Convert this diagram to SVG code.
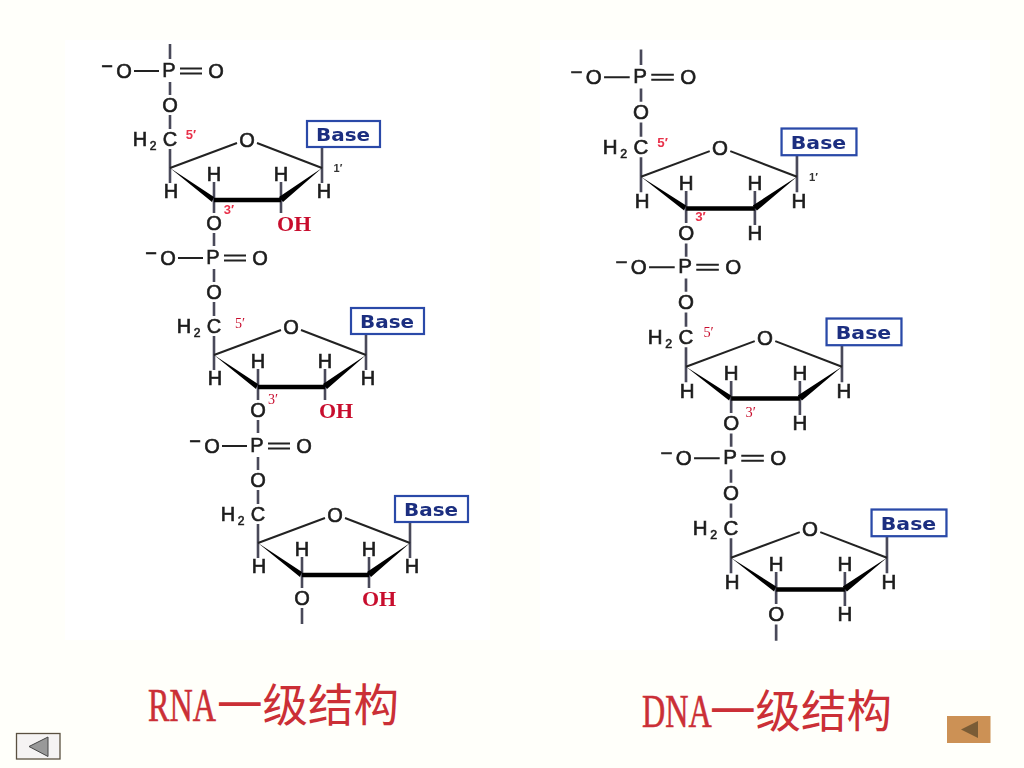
<svg xmlns="http://www.w3.org/2000/svg" width="1024" height="768" viewBox="0 0 1024 768">
<defs><filter id="soft" x="-10%" y="-10%" width="120%" height="120%"><feGaussianBlur stdDeviation="0.35"/></filter></defs>
<style>
.u{filter:url(#soft)}
.b{stroke:#222;stroke-width:2;fill:none}
.p{stroke:#4a4a5a;stroke-width:2.6;fill:none}
.t{stroke:#000;stroke-width:4.5;fill:none}
.w{fill:#000}
.a{font-family:"Liberation Sans",Arial,sans-serif;font-size:20px;fill:#1c1c1c;text-anchor:middle;stroke:#1c1c1c;stroke-width:.6}
.s{font-size:12px}
.box{fill:#fff;stroke:#2a4aa8;stroke-width:2.2}
.base{font-family:"DejaVu Sans",sans-serif;font-size:17.500px;font-weight:bold;fill:#1a2f80}
.n{font-family:"Liberation Sans",Arial,sans-serif;font-size:13px;font-weight:bold;fill:#e8304a;text-anchor:middle}
.k{font-family:"Liberation Sans",Arial,sans-serif;font-size:11px;font-weight:bold;fill:#333;text-anchor:middle}
.r{font-family:"Liberation Serif",serif;font-size:14px;fill:#c8102e;text-anchor:middle}
.oh{font-family:"Liberation Serif",serif;font-size:22px;font-weight:bold;fill:#c8102e;text-anchor:middle}
.title{font-family:"Noto Sans CJK SC",sans-serif;font-size:45.500px;fill:#cb2f36}
.lat{font-family:"Liberation Serif",serif;font-size:46px;fill:#cb2f36;stroke:#cb2f36;stroke-width:.6}
</style>
<rect width="1024" height="768" fill="#fffffa"/>
<rect x="65" y="40" width="425" height="600" fill="#fff"/>
<rect x="540" y="40" width="450" height="610" fill="#fff"/>

<g id="rna-unit-1" class="u" transform="translate(170,139)">
<path class="p" d="M0-95V-80M0-57V-44M0-24V-10M0 10V29M0 29V44M44 43V60M44 60V74M44 94V107M111 43V60M111 60V74M152 8V44"/>
<path class="b" d="M-36-68H-11M10-70.500H32M10-65.500H32M0 29L67 4M87 4L152 29"/>
<path class="t" d="M44 61H111"/>
<path class="w" d="M0 29L44 58L42 63ZM152 29L109 58L113 63Z"/>
<text class="a" x="-63" y="-66">−</text><text class="a" x="-46" y="-61">O</text><text class="a" x="-1" y="-62">P</text><text class="a" x="46" y="-61">O</text><text class="a" x="0" y="-27">O</text>
<text class="a" x="-30" y="7">H</text><text class="a s" x="-17" y="11">2</text><text class="a" x="0" y="7">C</text>
<text class="a" x="77" y="8">O</text><text class="a" x="1" y="59">H</text><text class="a" x="44" y="42">H</text><text class="a" x="111" y="42">H</text><text class="a" x="154" y="59">H</text><text class="a" x="44" y="91">O</text>
<rect class="box" x="137" y="-18" width="73" height="26"/><text class="base" x="146" y="2" textLength="54" lengthAdjust="spacingAndGlyphs">Base</text>
<text class="n" x="21" y="0">5′</text><text class="n" x="59" y="75">3′</text><text class="k" x="168" y="33">1′</text><text class="oh" x="124" y="92">OH</text>
</g>

<g id="rna-unit-2" class="u" transform="translate(214,326)">
<path class="p" d="M0-57V-44M0-24V-10M0 10V29M0 29V44M44 43V60M44 60V74M44 94V107M111 43V60M111 60V74M152 8V44"/>
<path class="b" d="M-36-68H-11M10-70.500H32M10-65.500H32M0 29L67 4M87 4L152 29"/>
<path class="t" d="M44 61H111"/>
<path class="w" d="M0 29L44 58L42 63ZM152 29L109 58L113 63Z"/>
<text class="a" x="-63" y="-66">−</text><text class="a" x="-46" y="-61">O</text><text class="a" x="-1" y="-62">P</text><text class="a" x="46" y="-61">O</text><text class="a" x="0" y="-27">O</text>
<text class="a" x="-30" y="7">H</text><text class="a s" x="-17" y="11">2</text><text class="a" x="0" y="7">C</text>
<text class="a" x="77" y="8">O</text><text class="a" x="1" y="59">H</text><text class="a" x="44" y="42">H</text><text class="a" x="111" y="42">H</text><text class="a" x="154" y="59">H</text><text class="a" x="44" y="91">O</text>
<rect class="box" x="137" y="-18" width="73" height="26"/><text class="base" x="146" y="2" textLength="54" lengthAdjust="spacingAndGlyphs">Base</text>
<text class="r" x="26" y="2">5′</text><text class="r" x="59" y="78">3′</text><text class="oh" x="122" y="92">OH</text>
</g>

<g id="rna-unit-3" class="u" transform="translate(258,514)">
<path class="p" d="M0-57V-44M0-24V-10M0 10V29M0 29V44M44 43V60M44 60V74M44 94V110M111 43V60M111 60V74M152 8V44"/>
<path class="b" d="M-36-68H-11M10-70.500H32M10-65.500H32M0 29L67 4M87 4L152 29"/>
<path class="t" d="M44 61H111"/>
<path class="w" d="M0 29L44 58L42 63ZM152 29L109 58L113 63Z"/>
<text class="a" x="-63" y="-66">−</text><text class="a" x="-46" y="-61">O</text><text class="a" x="-1" y="-62">P</text><text class="a" x="46" y="-61">O</text><text class="a" x="0" y="-27">O</text>
<text class="a" x="-30" y="7">H</text><text class="a s" x="-17" y="11">2</text><text class="a" x="0" y="7">C</text>
<text class="a" x="77" y="8">O</text><text class="a" x="1" y="59">H</text><text class="a" x="44" y="42">H</text><text class="a" x="111" y="42">H</text><text class="a" x="154" y="59">H</text><text class="a" x="44" y="91">O</text>
<rect class="box" x="137" y="-18" width="73" height="26"/><text class="base" x="146" y="2" textLength="54" lengthAdjust="spacingAndGlyphs">Base</text>
<text class="oh" x="121" y="92">OH</text>
</g>

<g id="dna-unit-1" class="u" transform="translate(641,147) scale(1.026)">
<path class="p" d="M0-95V-80M0-57V-44M0-24V-10M0 10V29M0 29V44M44 43V60M44 60V74M44 94V107M111 43V60M111 60V76M152 8V44"/>
<path class="b" d="M-36-68H-11M10-70.500H32M10-65.500H32M0 29L67 4M87 4L152 29"/>
<path class="t" d="M44 60H111"/>
<path class="w" d="M0 29L44 57L42 62ZM152 29L109 57L113 62Z"/>
<text class="a" x="-63" y="-66">−</text><text class="a" x="-46" y="-61">O</text><text class="a" x="-1" y="-62">P</text><text class="a" x="46" y="-61">O</text><text class="a" x="0" y="-27">O</text>
<text class="a" x="-30" y="7">H</text><text class="a s" x="-17" y="11">2</text><text class="a" x="0" y="7">C</text>
<text class="a" x="77" y="8">O</text><text class="a" x="1" y="59">H</text><text class="a" x="44" y="42">H</text><text class="a" x="111" y="42">H</text><text class="a" x="154" y="59">H</text><text class="a" x="44" y="91">O</text><text class="a" x="111" y="91">H</text>
<rect class="box" x="137" y="-18" width="73" height="26"/><text class="base" x="146" y="2" textLength="54" lengthAdjust="spacingAndGlyphs">Base</text>
<text class="n" x="21" y="0">5′</text><text class="n" x="58" y="72">3′</text><text class="k" x="168" y="33">1′</text>
</g>

<g id="dna-unit-2" class="u" transform="translate(686,337) scale(1.026)">
<path class="p" d="M0-57V-44M0-24V-10M0 10V29M0 29V44M44 43V60M44 60V74M44 94V107M111 43V60M111 60V76M152 8V44"/>
<path class="b" d="M-36-68H-11M10-70.500H32M10-65.500H32M0 29L67 4M87 4L152 29"/>
<path class="t" d="M44 60H111"/>
<path class="w" d="M0 29L44 57L42 62ZM152 29L109 57L113 62Z"/>
<text class="a" x="-63" y="-66">−</text><text class="a" x="-46" y="-61">O</text><text class="a" x="-1" y="-62">P</text><text class="a" x="46" y="-61">O</text><text class="a" x="0" y="-27">O</text>
<text class="a" x="-30" y="7">H</text><text class="a s" x="-17" y="11">2</text><text class="a" x="0" y="7">C</text>
<text class="a" x="77" y="8">O</text><text class="a" x="1" y="59">H</text><text class="a" x="44" y="42">H</text><text class="a" x="111" y="42">H</text><text class="a" x="154" y="59">H</text><text class="a" x="44" y="91">O</text><text class="a" x="111" y="91">H</text>
<rect class="box" x="137" y="-18" width="73" height="26"/><text class="base" x="146" y="2" textLength="54" lengthAdjust="spacingAndGlyphs">Base</text>
<text class="r" x="22" y="0">5′</text><text class="r" x="63" y="78">3′</text>
</g>

<g id="dna-unit-3" class="u" transform="translate(731,528) scale(1.026)">
<path class="p" d="M0-57V-44M0-24V-10M0 10V29M0 29V44M44 43V60M44 60V74M44 94V110M111 43V60M111 60V76M152 8V44"/>
<path class="b" d="M-36-68H-11M10-70.500H32M10-65.500H32M0 29L67 4M87 4L152 29"/>
<path class="t" d="M44 60H111"/>
<path class="w" d="M0 29L44 57L42 62ZM152 29L109 57L113 62Z"/>
<text class="a" x="-63" y="-66">−</text><text class="a" x="-46" y="-61">O</text><text class="a" x="-1" y="-62">P</text><text class="a" x="46" y="-61">O</text><text class="a" x="0" y="-27">O</text>
<text class="a" x="-30" y="7">H</text><text class="a s" x="-17" y="11">2</text><text class="a" x="0" y="7">C</text>
<text class="a" x="77" y="8">O</text><text class="a" x="1" y="59">H</text><text class="a" x="44" y="42">H</text><text class="a" x="111" y="42">H</text><text class="a" x="154" y="59">H</text><text class="a" x="44" y="91">O</text><text class="a" x="111" y="91">H</text>
<rect class="box" x="137" y="-18" width="73" height="26"/><text class="base" x="146" y="2" textLength="54" lengthAdjust="spacingAndGlyphs">Base</text>
</g>

<g id="title-rna">
<text class="lat" transform="translate(148,721) scale(.7,1)">RNA</text>
<text class="title" x="217" y="722">一级结构</text>
</g>
<g id="title-dna">
<text class="lat" transform="translate(642,727) scale(.7,1)">DNA</text>
<text class="title" x="710" y="728">一级结构</text>
</g>

<g id="button-left">
<rect x="16.500" y="733.500" width="43.500" height="25.500" fill="#f5f3f3" stroke="#5a5040" stroke-width="1.300"/>
<path d="M29 746.500L48 737V756.500Z" fill="#999" stroke="#444" stroke-width="1"/>
</g>
<g id="button-right">
<rect x="947" y="716" width="43.500" height="27" fill="#cc9155"/>
<path d="M961 729.500L978 721V738Z" fill="#7a5c36"/>
</g>
</svg>
